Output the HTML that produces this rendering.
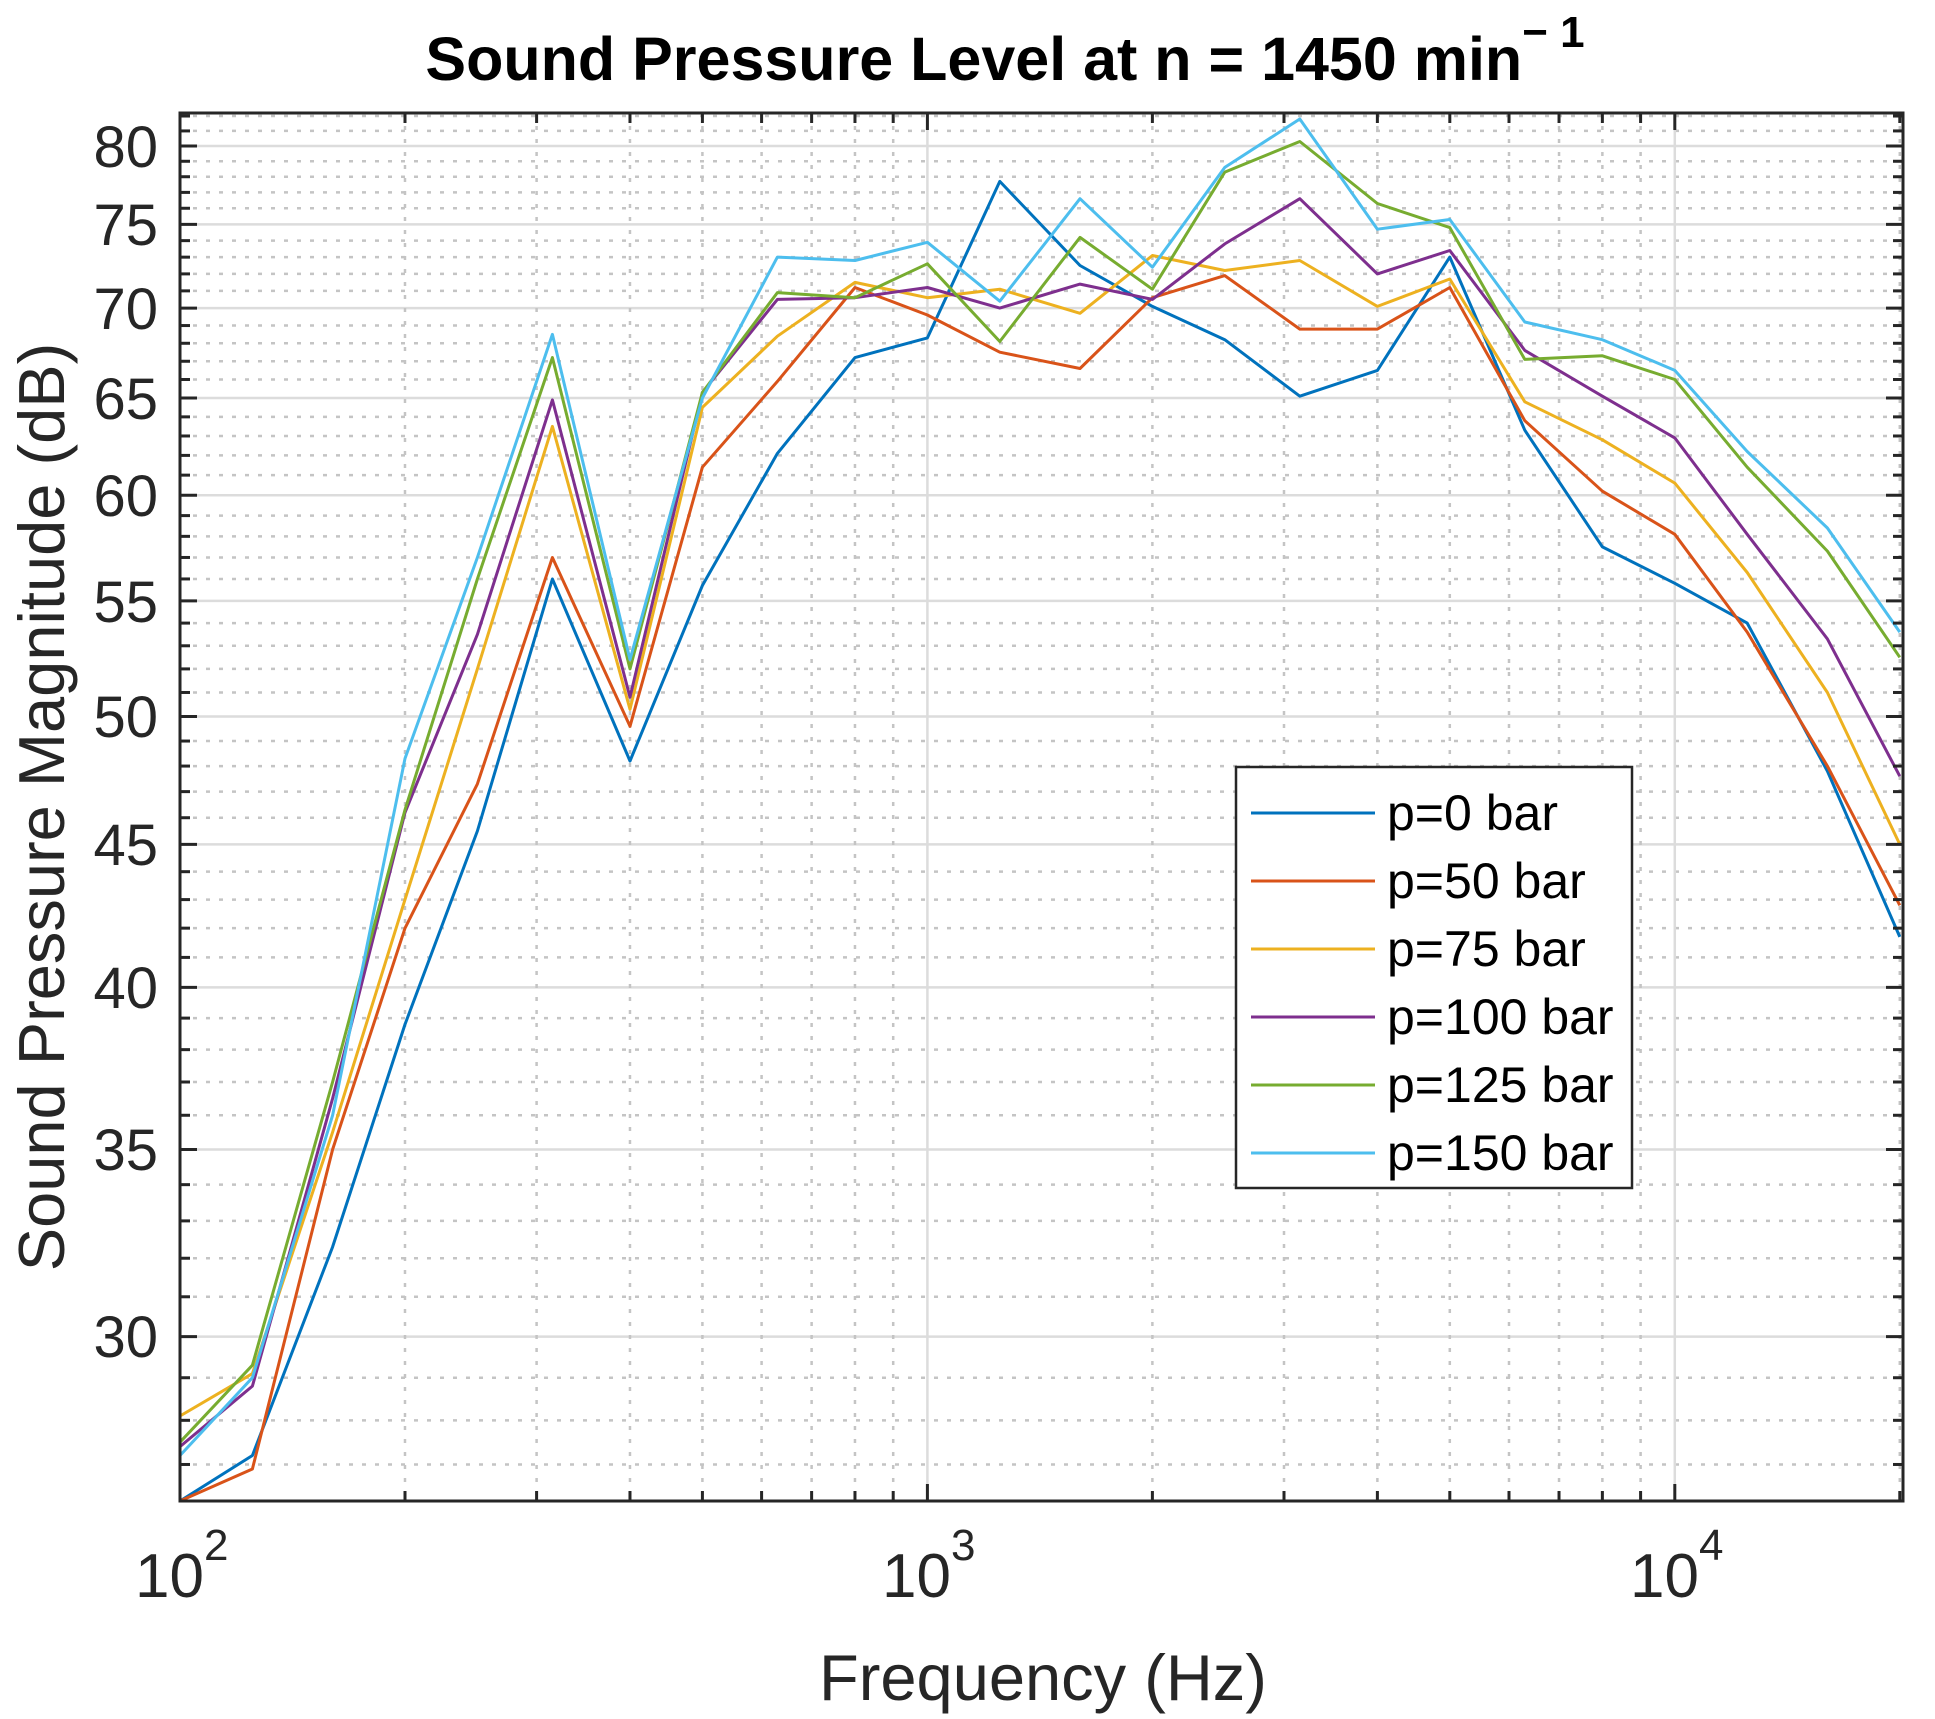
<!DOCTYPE html>
<html><head><meta charset="utf-8"><style>
html,body{margin:0;padding:0;background:#fff;}
svg{display:block;font-family:"Liberation Sans",Arial,sans-serif;}
</style></head><body>
<svg id="s" width="1935" height="1719" viewBox="0 0 1935 1719" xmlns="http://www.w3.org/2000/svg">
<rect width="1935" height="1719" fill="#fff"/>
<g id="grid"></g>
<g id="lines"></g>
<rect x="180" y="113" width="1723" height="1388" fill="none" stroke="#262626" stroke-width="3"/>
<g id="ticks"></g>
<g fill="#262626" font-size="58" text-anchor="end">
<text x="158" y="167">80</text><text x="158" y="245">75</text><text x="158" y="329">70</text>
<text x="158" y="419">65</text><text x="158" y="516">60</text><text x="158" y="622">55</text>
<text x="158" y="737">50</text><text x="158" y="865">45</text><text x="158" y="1008">40</text>
<text x="158" y="1170">35</text><text x="158" y="1357">30</text>
</g>
<g fill="#262626" font-size="62">
<text x="135" y="1597">10<tspan font-size="44" dy="-37">2</tspan></text>
<text x="882" y="1597">10<tspan font-size="44" dy="-37">3</tspan></text>
<text x="1630" y="1597">10<tspan font-size="44" dy="-37">4</tspan></text>
<text x="1043" y="1700" text-anchor="middle" font-size="65">Frequency (Hz)</text>
<text transform="translate(64,807) rotate(-90)" text-anchor="middle" font-size="65">Sound Pressure Magnitude (dB)</text>
</g>
<text x="1005" y="80" text-anchor="middle" font-size="61" font-weight="bold" fill="#000">Sound Pressure Level at n = 1450 min<tspan font-size="44" dy="-33">− 1</tspan></text>
<g transform="translate(-15,-10)">
<rect x="1251" y="777" width="396" height="421" fill="#fff" stroke="#262626" stroke-width="2.5"/>
<g id="leg" font-size="50" fill="#000">
<text x="1402" y="840">p=0 bar</text>
<text x="1402" y="908">p=50 bar</text>
<text x="1402" y="976">p=75 bar</text>
<text x="1402" y="1044">p=100 bar</text>
<text x="1402" y="1112">p=125 bar</text>
<text x="1402" y="1180">p=150 bar</text>
</g>
<g id="legl"></g>
</g>
</svg>
<script>
const NS="http://www.w3.org/2000/svg";
const X=f=>180+747.4*Math.log10(f/100);
const Y=v=>146+2795*(Math.log10(80)-Math.log10(v));
function el(p,t,a){const e=document.createElementNS(NS,t);for(const k in a)e.setAttribute(k,a[k]);p.appendChild(e);return e;}
const g=document.getElementById('grid'),tk=document.getElementById('ticks');
for(let v=26;v<=82;v++){const y=Y(v);if(y<114||y>1500)continue;
 const maj=v%5==0;
 el(g,'line',{x1:180,x2:1903,y1:y,y2:y,stroke:maj?'#dcdcdc':'#c4c4c4','stroke-width':2.5,'stroke-dasharray':maj?'':'4 9'});
 el(tk,'line',{x1:180,x2:maj?197:190,y1:y,y2:y,stroke:'#262626','stroke-width':3});
 el(tk,'line',{x1:1903,x2:maj?1886:1893,y1:y,y2:y,stroke:'#262626','stroke-width':3});}
for(let d=100;d<=10000;d*=10)for(let m=1;m<10;m++){const f=d*m;if(f>20000)continue;const x=X(f);if(x<181)continue;
 const maj=m==1;
 el(g,'line',{x1:x,x2:x,y1:113,y2:1501,stroke:maj?'#dcdcdc':'#c4c4c4','stroke-width':2.5,'stroke-dasharray':maj?'':'4 9'});
 el(tk,'line',{x1:x,x2:x,y1:1501,y2:maj?1484:1491,stroke:'#262626','stroke-width':3});
 el(tk,'line',{x1:x,x2:x,y1:113,y2:maj?130:123,stroke:'#262626','stroke-width':3});}
const F=[100,125,160,200,250,315,400,500,630,800,1000,1250,1600,2000,2500,3150,4000,5000,6300,8000,10000,12500,16000,20000];
const D=[
['#0072BD',[26.2,27.2,32.3,38.8,45.5,56,48.2,55.7,62.1,67.2,68.3,77.7,72.5,70.1,68.2,65.1,66.5,73,63.3,57.5,55.8,54,47.8,41.7]],
['#D95319',[26.2,26.9,35,42,47.3,57,49.6,61.4,65.9,71.2,69.6,67.5,66.6,70.6,71.9,68.8,68.8,71.2,63.8,60.2,58.1,53.6,48,42.8]],
['#EDB120',[28.1,29.1,35.5,43,52,63.5,50.3,64.5,68.4,71.5,70.6,71.1,69.7,73.1,72.2,72.8,70.1,71.7,64.8,62.8,60.6,56.3,51,45]],
['#7E2F8E',[27.4,28.8,36.5,46.2,53.5,64.9,50.8,65.3,70.5,70.6,71.2,70,71.4,70.5,73.8,76.6,72,73.4,67.6,65.1,62.9,58.1,53.3,47.6]],
['#77AC30',[27.5,29.3,37,46.3,56,67.2,52,65.3,70.9,70.6,72.6,68.1,74.2,71.1,78.3,80.3,76.3,74.8,67.1,67.3,66,61.4,57.3,52.5]],
['#4DBEEE',[27.2,29,36,48.3,57,68.5,52.4,65,73,72.8,73.9,70.4,76.6,72.4,78.6,81.8,74.7,75.3,69.2,68.2,66.5,62.2,58.4,53.6]]];
const L=document.getElementById('lines'),LL=document.getElementById('legl');
D.forEach(([c,v],i)=>{
 el(L,'polyline',{points:v.map((d,j)=>X(F[j]).toFixed(1)+','+Math.min(1501,Y(d)).toFixed(1)).join(' '),fill:'none',stroke:c,'stroke-width':3,'stroke-linejoin':'round'});
 el(LL,'line',{x1:1266,x2:1390,y1:823+68*i,y2:823+68*i,stroke:c,'stroke-width':3});
});
</script>
</body></html>
